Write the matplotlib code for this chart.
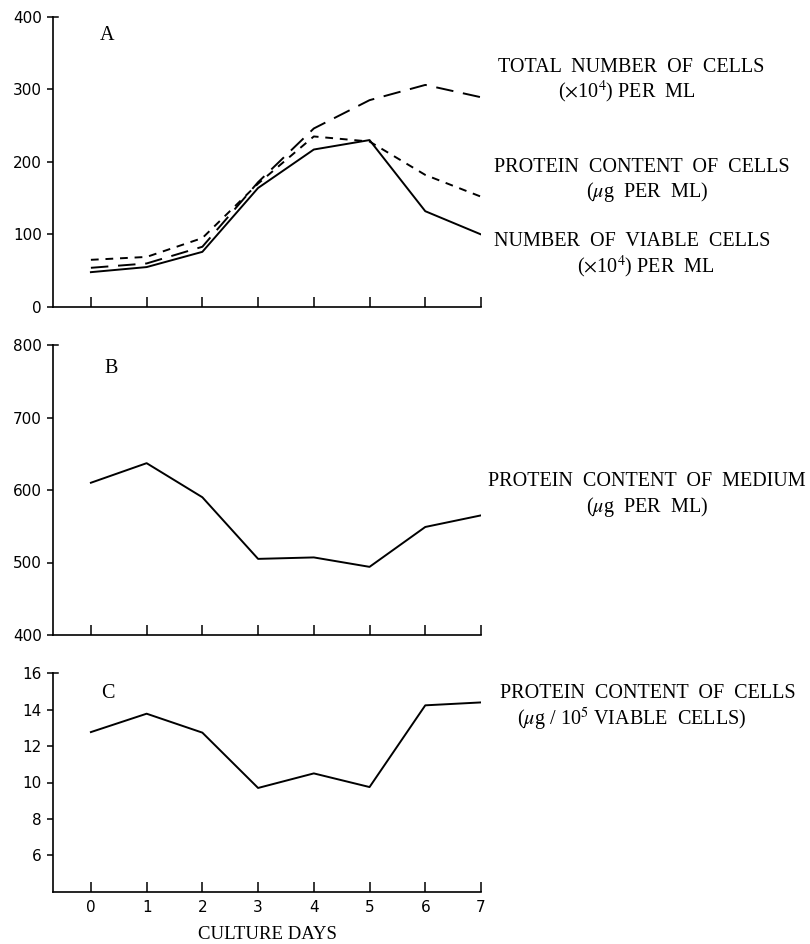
import matplotlib
matplotlib.use("Agg")
import matplotlib.pyplot as plt

plt.rcParams["mathtext.fontset"] = "stix"

days = [0, 1, 2, 3, 4, 5, 6, 7]
total_cells = [54, 60, 83, 172, 246, 285, 306, 289]
protein_cells = [65, 69, 95, 170, 235, 228, 182, 152]
viable_cells = [48, 55, 76, 164, 217, 230, 132, 100]
protein_medium = [610, 637, 590, 505, 507, 494, 549, 565]
protein_per_viable = [12.77, 13.78, 12.74, 9.7, 10.5, 9.75, 14.24, 14.4]

yticks_a = [0, 100, 200, 300, 400]
yticks_b = [400, 500, 600, 700, 800]
yticks_c = [6, 8, 10, 12, 14, 16]

SERIF = "Liberation Serif"
SANS = "DejaVu Sans"

fig = plt.figure(figsize=(8.1, 9.44), dpi=100)
W, H = 810, 944

def mk(top, bottom):
    left, right = 53, 481
    return fig.add_axes([left / W, 1 - bottom / H, (right - left) / W, (bottom - top) / H])

axA = mk(16.7, 307)
axB = mk(345, 635)
axC = mk(673.3, 891.7)

for ax, (lo, hi), yt in [(axA, (0, 400), yticks_a), (axB, (400, 800), yticks_b), (axC, (4, 16), yticks_c)]:
    ax.set_xlim(-0.68, 7)
    ax.set_ylim(lo, hi)
    ax.set_yticks(yt)
    ax.set_xticks(days)
    for s in ["top", "right"]:
        ax.spines[s].set_visible(False)
    for s in ["left", "bottom"]:
        ax.spines[s].set_linewidth(1.2)
    ax.tick_params(axis="y", direction="out", length=4, width=1.1, labelsize=11, pad=4)
    ax.tick_params(axis="x", direction="in", length=7, width=1.1, labelsize=11, pad=6)
    for lab in ax.get_yticklabels() + ax.get_xticklabels():
        lab.set_fontfamily(SANS)
    ax.plot([0, 0.012], [1, 1], transform=ax.transAxes, color="black", lw=1.1, clip_on=False)
    ax.patch.set_alpha(0)

axA.set_xticklabels([])
axB.set_xticklabels([])

lw = 1.4
axA.plot(days, total_cells, color="black", lw=lw, dashes=(9, 5))
axA.plot(days, protein_cells, color="black", lw=lw, dashes=(4, 3.5))
axA.plot(days, viable_cells, color="black", lw=lw)
axB.plot(days, protein_medium, color="black", lw=lw)
axC.plot(days, protein_per_viable, color="black", lw=lw)

axC.set_xlabel("CULTURE DAYS", fontfamily=SERIF, fontsize=13.5, labelpad=8)

def ftxt(x, y, s, size=14.5, ha="center"):
    fig.text(x / W, 1 - y / H, s, fontfamily=SERIF, fontsize=size, ha=ha, va="center")

ftxt(107, 36, "A", 14.5)
ftxt(111, 368, "B", 14.5)
ftxt(108, 693, "C", 14.5)

ftxt(631, 68, "TOTAL  NUMBER  OF  CELLS")
ftxt(627, 92, r"($\times$10$^4$) PER  ML")
ftxt(642, 167, "PROTEIN  CONTENT  OF  CELLS")
ftxt(647, 192, r"($\mu$g  PER  ML)")
ftxt(632, 242, "NUMBER  OF  VIABLE  CELLS")
ftxt(646, 267, r"($\times$10$^4$) PER  ML")

ftxt(647, 481, "PROTEIN  CONTENT  OF  MEDIUM")
ftxt(647, 507, r"($\mu$g  PER  ML)")

ftxt(648, 694, "PROTEIN  CONTENT  OF  CELLS")
ftxt(632, 719, r"($\mu$g / 10$^5$ VIABLE  CELLS)")

fig.savefig("out.png", dpi=100)
